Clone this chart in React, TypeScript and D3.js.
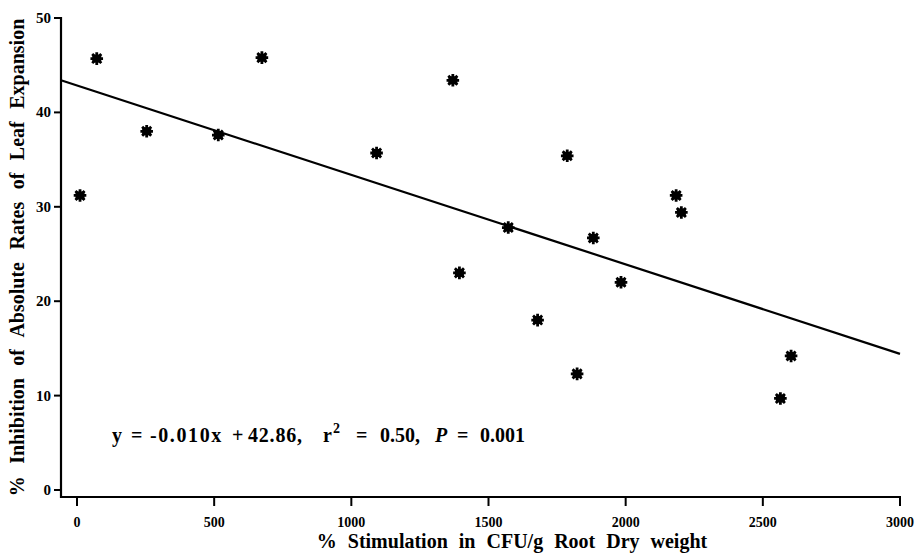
import React from "react";
import * as d3 from "d3";

const xValues = [11, 72, 254, 515, 674, 1092, 1370, 1394, 1572, 1679, 1787, 1823, 1882, 1983, 2184, 2203, 2564, 2603];
const yValues = [31.2, 45.7, 38.0, 37.6, 45.8, 35.7, 43.4, 23.0, 27.8, 18.0, 35.4, 12.3, 26.7, 22.0, 31.2, 29.4, 9.7, 14.2];
const xTicks = [0, 500, 1000, 1500, 2000, 2500, 3000];
const yTicks = [0, 10, 20, 30, 40, 50];
const slope = -0.00948;
const intercept = 42.86;
const xTitle = "% Stimulation in CFU/g Root Dry weight";
const yTitle = "% Inhibition of Absolute Rates of Leaf Expansion";

const FONT = "'Liberation Serif', 'Times New Roman', serif";

function starPath(cx: number, cy: number) {
  const r = 6.3;
  const d = r * 0.72;
  return `M${cx - r},${cy}L${cx + r},${cy}M${cx},${cy - r}L${cx},${cy + r}M${cx - d},${cy - d}L${cx + d},${cy + d}M${cx - d},${cy + d}L${cx + d},${cy - d}`;
}

export default function App() {
  const x = d3.scaleLinear().domain([0, 3000]).range([77, 900]);
  const y = d3.scaleLinear().domain([0, 50]).range([490, 18]);
  const axisX = 61;
  const axisY = 497;
  const x0 = x.invert(axisX);
  const x1 = 3000;
  const line = d3.line<number>().x((d) => x(d)).y((d) => y(slope * d + intercept));

  return (
    <svg width={915} height={554} style={{ position: "absolute", left: 0, top: 0, background: "#fff" }}>
      <rect width={915} height={554} fill="#fff" />
      {/* axes */}
      <line x1={axisX} y1={17} x2={axisX} y2={axisY + 1} stroke="#000" strokeWidth={2.2} />
      <line x1={axisX - 1} y1={axisY} x2={901} y2={axisY} stroke="#000" strokeWidth={2.2} />
      {yTicks.map((t) => (
        <g key={"y" + t}>
          <line x1={54} x2={axisX} y1={y(t)} y2={y(t)} stroke="#000" strokeWidth={2} />
          <text x={51} y={y(t) + 5} textAnchor="end" fontFamily={FONT} fontWeight="bold" fontSize={15}>
            {t}
          </text>
        </g>
      ))}
      {xTicks.map((t) => (
        <g key={"x" + t}>
          <line x1={x(t)} x2={x(t)} y1={axisY} y2={axisY + 9} stroke="#000" strokeWidth={2} />
          <text x={x(t)} y={527} textAnchor="middle" fontFamily={FONT} fontWeight="bold" fontSize={14}>
            {t}
          </text>
        </g>
      ))}
      {/* regression line */}
      <path d={line([x0, x1]) || ""} fill="none" stroke="#000" strokeWidth={2.2} />
      {/* points */}
      {xValues.map((v, i) => {
        const cx = x(v);
        const cy = y(yValues[i]);
        return (
          <g key={"p" + i}>
            <rect x={cx - 4.5} y={cy - 4} width={9} height={8} fill="#000" />
            <path d={starPath(cx, cy)} stroke="#000" strokeWidth={2.8} fill="none" />
          </g>
        );
      })}
      {/* titles */}
      <text
        x={512}
        y={548}
        textAnchor="middle"
        fontFamily={FONT}
        fontWeight="bold"
        fontSize={20}
        style={{ wordSpacing: "6px" }}
      >
        {xTitle}
      </text>
      <text
        transform={`translate(24,257.5) rotate(-90)`}
        textAnchor="middle"
        fontFamily={FONT}
        fontWeight="bold"
        fontSize={20}
        style={{ wordSpacing: "7.5px" }}
      >
        {yTitle}
      </text>
      {/* equation */}
      <text y={442} fontFamily={FONT} fontWeight="bold" fontSize={20}>
        <tspan x={112}>y</tspan>
        <tspan x={131}>=</tspan>
        <tspan x={150} letterSpacing={1.6}>-0.010x</tspan>
        <tspan x={232}>+</tspan>
        <tspan x={248} letterSpacing={0.8}>42.86,</tspan>
        <tspan x={323}>r</tspan>
        <tspan x={333} dy={-9} fontSize={14}>2</tspan>
        <tspan x={356} dy={9}>=</tspan>
        <tspan x={380}>0.50,</tspan>
        <tspan x={435} fontStyle="italic">P</tspan>
        <tspan x={457}>=</tspan>
        <tspan x={480}>0.001</tspan>
      </text>
    </svg>
  );
}
